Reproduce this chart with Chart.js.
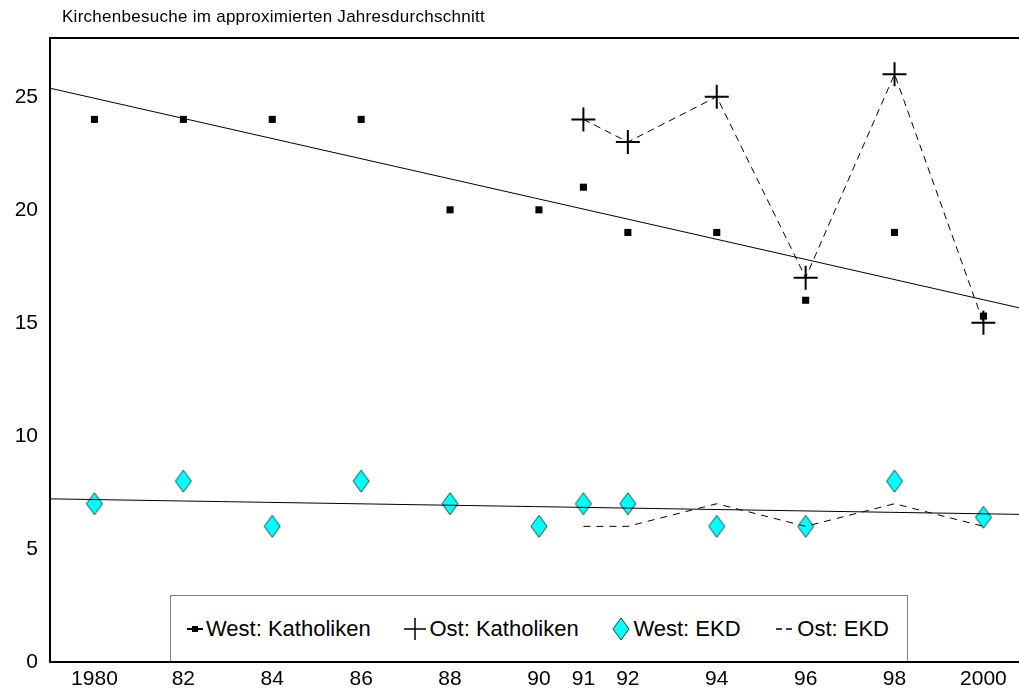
<!DOCTYPE html>
<html><head><meta charset="utf-8">
<script src="https://cdn.jsdelivr.net/npm/chart.js@4"></script>
<style>
html,body{margin:0;padding:0;background:#fff;overflow:hidden;}
#wrap{position:relative;width:1019px;height:695px;overflow:hidden;}
#c{display:block;}
#title{position:absolute;left:62px;top:7px;color:#000;white-space:nowrap;font-family:"Liberation Sans",Arial,sans-serif;font-size:17px;}
#legend{position:absolute;left:170px;top:595px;width:738px;height:66px;border:1px solid #808080;border-bottom:none;background:#fff;display:flex;align-items:center;justify-content:space-between;padding:0 18px 0 16px;box-sizing:border-box;color:#000;white-space:nowrap;font-family:"Liberation Sans",Arial,sans-serif;font-size:22px;}
#legend .it{display:flex;align-items:center;}
#legend svg{margin-right:3px;}
</style>
</head><body>
<div id="wrap">
<canvas id="c" width="1019" height="695"></canvas>
<div id="title">Kirchenbesuche im approximierten Jahresdurchschnitt</div>
<div id="legend">
 <div class="it"><svg width="16" height="12"><line x1="0" y1="6" x2="16" y2="6" stroke="#000" stroke-width="2"/><rect x="5" y="3" width="6" height="6" fill="#000"/></svg>West: Katholiken</div>
 <div class="it"><svg width="22" height="24"><line x1="0" y1="12" x2="22" y2="12" stroke="#000" stroke-width="1.5"/><line x1="11" y1="1" x2="11" y2="23" stroke="#000" stroke-width="1.5"/></svg>Ost: Katholiken</div>
 <div class="it"><svg width="18" height="24"><path d="M9 1 L17 12 L9 23 L1 12 Z" fill="#00ffff" stroke="#204040" stroke-width="1"/></svg>West: EKD</div>
 <div class="it"><svg width="20" height="12"><line x1="2" y1="6" x2="8" y2="6" stroke="#000" stroke-width="1.5"/><line x1="12" y1="6" x2="18" y2="6" stroke="#000" stroke-width="1.5"/></svg>Ost: EKD</div>
</div>
</div>
<script>
const years = [1980,1982,1984,1986,1988,1990,1991,1992,1994,1996,1998,2000];
const westKath = [24,24,24,24,20,20,21,19,19,16,19,15.3];
const westEKD = [7,8,6,8,7,6,7,7,6,6,8,6.4];
const ostYears = [1991,1992,1994,1996,1998,2000];
const ostKath = [24,23,25,17,26,15];
const ostEKD = [6,6,7,6,7,6];
const tickYears = [1980,1982,1984,1986,1988,1990,1991,1992,1994,1996,1998,2000];
const tickLabels = ['1980','82','84','86','88','90','91','92','94','96','98','2000'];
const yTicks = [0,5,10,15,20,25];

const X_MIN = 1979, X_MAX = 2000.8, Y_MAX = 27.6;
const FAM = '"Liberation Sans", Arial, sans-serif';

(function(){
  const t = document.getElementById('title');
  const g = document.createElement('canvas').getContext('2d');
  g.font = '17px ' + FAM;
  const txt = t.textContent;
  const w = g.measureText(txt).width;
  const ls = Math.max(0, (423 - w) / txt.length);
  t.style.letterSpacing = ls.toFixed(2) + 'px';
})();

function trend(xs, ys){
  const n = xs.length;
  const mx = xs.reduce((a,b)=>a+b,0)/n, my = ys.reduce((a,b)=>a+b,0)/n;
  let sxy=0, sxx=0;
  for(let i=0;i<n;i++){sxy+=(xs[i]-mx)*(ys[i]-my);sxx+=(xs[i]-mx)*(xs[i]-mx);}
  const b = sxy/sxx, a = my - b*mx;
  return [{x:X_MIN,y:a+b*X_MIN},{x:X_MAX,y:a+b*X_MAX}];
}
const pts = (xs, ys) => xs.map((x,i)=>({x:x,y:ys[i]}));

const dia = document.createElement('canvas');
dia.width = 18; dia.height = 24;
(function(){const g=dia.getContext('2d');g.beginPath();g.moveTo(9,1);g.lineTo(17,12);g.lineTo(9,23);g.lineTo(1,12);g.closePath();g.fillStyle='#00ffff';g.fill();g.strokeStyle='#204040';g.lineWidth=1;g.stroke();})();

const topBorder = {id:'topBorder',afterDraw(chart){const {ctx,chartArea:a}=chart;ctx.save();ctx.strokeStyle='#000';ctx.lineWidth=2;ctx.beginPath();ctx.moveTo(a.left-1,a.top);ctx.lineTo(a.right,a.top);ctx.stroke();ctx.restore();}};

const tickFont = {family:FAM,size:21};

new Chart(document.getElementById('c'),{
  type:'scatter',
  data:{datasets:[
    {label:'trendKath',data:trend(years,westKath),showLine:true,borderColor:'#000',borderWidth:1,pointRadius:0},
    {label:'trendEKD',data:trend(years,westEKD),showLine:true,borderColor:'#000',borderWidth:1,pointRadius:0},
    {label:'Ost: Katholiken',data:pts(ostYears,ostKath),showLine:true,borderColor:'#000',borderWidth:1,borderDash:[7,5],pointStyle:'cross',pointRadius:12,pointBorderWidth:2,pointBorderColor:'#000'},
    {label:'Ost: EKD',data:pts(ostYears,ostEKD),showLine:true,borderColor:'#000',borderWidth:1,borderDash:[7,6],pointRadius:0},
    {label:'West: Katholiken',data:pts(years,westKath),showLine:false,pointStyle:'rect',pointRadius:5,backgroundColor:'#000',borderColor:'#000',pointBorderWidth:0},
    {label:'West: EKD',data:pts(years,westEKD),showLine:false,pointStyle:dia,pointRadius:10}
  ]},
  options:{
    responsive:false,animation:false,
    layout:{autoPadding:false,padding:{top:38,left:0,right:0,bottom:0}},
    plugins:{legend:{display:false},tooltip:{enabled:false}},
    scales:{
      x:{type:'linear',min:X_MIN,max:X_MAX,
        grid:{display:false,drawTicks:false},
        border:{display:true,color:'#000',width:2},
        afterBuildTicks:(s)=>{s.ticks=tickYears.map(v=>({value:v}));},
        afterFit:(s)=>{s.height=33;s.paddingLeft=0;s.paddingRight=0;},
        ticks:{autoSkip:false,maxRotation:0,padding:5,color:'#000',font:tickFont,callback:(v,i)=>tickLabels[i]}},
      y:{type:'linear',min:0,max:Y_MAX,
        grid:{display:false,drawTicks:false},
        border:{display:true,color:'#000',width:2},
        afterBuildTicks:(s)=>{s.ticks=yTicks.map(v=>({value:v}));},
        afterFit:(s)=>{s.width=50;s.paddingTop=0;s.paddingBottom=0;},
        ticks:{padding:12,color:'#000',font:tickFont,callback:(v)=>String(v)}}
    }
  },
  plugins:[topBorder]
});
</script>
</body></html>
